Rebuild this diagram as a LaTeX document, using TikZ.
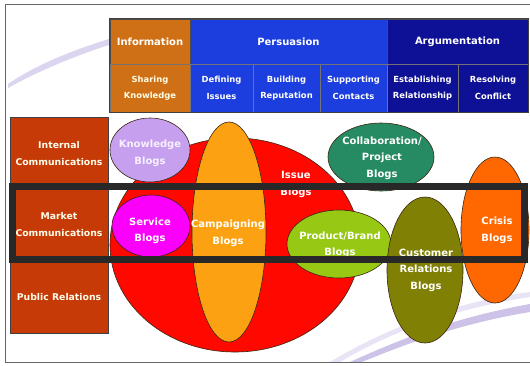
\documentclass[tikz,border=0pt]{standalone}
\usepackage{fontspec}
\setmainfont{DejaVu Sans}
\usetikzlibrary{shapes.geometric}
\definecolor{infoC}{RGB}{208,112,22}
\definecolor{persC}{RGB}{28,62,222}
\definecolor{argC}{RGB}{14,16,150}
\definecolor{leftC}{RGB}{198,58,8}
\definecolor{redC}{RGB}{255,8,0}
\definecolor{campC}{RGB}{252,162,18}
\definecolor{knowC}{RGB}{198,160,238}
\definecolor{servC}{RGB}{250,0,250}
\definecolor{collC}{RGB}{38,138,98}
\definecolor{prodC}{RGB}{150,200,20}
\definecolor{custC}{RGB}{128,128,4}
\definecolor{crisC}{RGB}{255,104,0}
\definecolor{swooshC}{RGB}{205,195,232}
\definecolor{barC}{RGB}{40,40,40}
\tikzset{
  hcell/.style={draw=black!70, line width=0.8pt, rectangle, inner sep=0pt, text=white,
     font=\bfseries\fontsize{10}{12}\selectfont},
  scell/.style={draw=black!55, line width=0.8pt, rectangle, inner sep=0pt, text=white, align=center,
     font=\bfseries\fontsize{8.4}{16.5}\selectfont},
  blob/.style={ellipse, draw=black!70!brown, line width=0.6pt, inner sep=0pt},
  lbl/.style={text=white, align=center, inner sep=0pt, font=\bfseries\fontsize{10}{16.5}\selectfont},
  llbl/.style={text=white!92!yellow, align=center, inner sep=0pt, font=\bfseries\fontsize{9.3}{17}\selectfont}
}
\begin{document}
\begin{tikzpicture}[x=1pt,y=-1pt]
\useasboundingbox (0,0) rectangle (530,365);
\fill[white] (0,0) rectangle (530,365);
% background swooshes
\fill[swooshC!70] (8,84) .. controls (40,62) and (80,48) .. (112,38) -- (112,44) .. controls (80,54) and (40,70) .. (8,88) -- cycle;
\fill[swooshC] (350,362) .. controls (420,330) and (470,315) .. (530,304) -- (530,312) .. controls (470,322) and (420,338) .. (362,362) -- cycle;
\fill[swooshC!45] (330,362) .. controls (400,320) and (470,300) .. (530,292) -- (530,297) .. controls (470,306) and (400,326) .. (340,362) -- cycle;
% frame
\draw[black!60, line width=0.8pt] (531,4) -- (5,4) -- (5,362) -- (531,362);
% top table
\node[hcell, fill=infoC, minimum width=80pt, minimum height=45pt] (info) at (150,41.5) {Information};
\node[hcell, fill=persC, minimum width=197pt, minimum height=45pt] (pers) at (288.5,41.5) {Persuasion};
\node[hcell, fill=argC, minimum width=141pt, minimum height=45pt] (arg) at (457.5,41.5) {Argumentation};
\node[scell, fill=infoC, minimum width=80pt, minimum height=48pt, text=white!90!yellow] (share) at (150,88) {Sharing\\Knowledge};
\node[scell, fill=persC, minimum width=63pt, minimum height=48pt] (defi) at (221.5,88) {Defining\\Issues};
\node[scell, fill=persC, minimum width=67pt, minimum height=48pt] (buil) at (286.5,88) {Building\\Reputation};
\node[scell, fill=persC, minimum width=67pt, minimum height=48pt] (supp) at (353.5,88) {Supporting\\Contacts};
\node[scell, fill=argC, minimum width=71pt, minimum height=48pt] (esta) at (422.5,88) {Establishing\\Relationship};
\node[scell, fill=argC, minimum width=70pt, minimum height=48pt] (reso) at (493,88) {Resolving\\Conflict};
\draw[black!75, line width=1.2pt] (info.north west) rectangle (reso.south east);
% left box
\node[rectangle, draw=black!75, line width=1pt, fill=leftC, minimum width=98pt, minimum height=216pt, inner sep=0pt] (leftbox) at (59,225) {};
\node[llbl] (intc) at (59,154) {Internal\\Communications};
\node[llbl] (mktc) at (59,225) {Market\\Communications};
\node[llbl] (pubr) at (59,297) {Public Relations};
% blobs
\node[blob, fill=redC, minimum width=250pt, minimum height=214pt] (issue) at (235,245) {};
\node[blob, fill=campC, minimum width=74pt, minimum height=220pt] (camp) at (229,232) {};
\node[blob, fill=knowC, minimum width=80pt, minimum height=64pt] (know) at (150,150) {};
\node[blob, fill=servC, minimum width=78pt, minimum height=62pt] (serv) at (151,226) {};
\node[blob, fill=collC, minimum width=106pt, minimum height=68pt] (coll) at (381,157) {};
\node[blob, fill=prodC, minimum width=104pt, minimum height=68pt] (prod) at (339,244) {};
\node[blob, fill=custC, minimum width=76pt, minimum height=146pt] (cust) at (425,270) {};
\node[blob, fill=crisC, minimum width=68pt, minimum height=146pt] (cris) at (495,230) {};
% labels
\node[lbl, text=white!85!knowC] (knowT) at (150,153.5) {Knowledge\\Blogs};
\node[lbl] (servT) at (150,231) {Service\\Blogs};
\node[lbl] (campT) at (228,233.5) {Campaigning\\Blogs};
\node[lbl] (issueT) at (296,184.5) {Issue\\Blogs};
\node[lbl] (collT) at (382,158) {Collaboration/\\Project\\Blogs};
\node[lbl] (prodT) at (340,245) {Product/Brand\\Blogs};
\node[lbl] (custT) at (426,270) {Customer\\Relations\\Blogs};
\node[lbl] (crisT) at (497,230.5) {Crisis\\Blogs};
% highlight bar
\draw[barC, line width=7pt] (12,186.5) rectangle (524.5,259.5);
\end{tikzpicture}
\end{document}
